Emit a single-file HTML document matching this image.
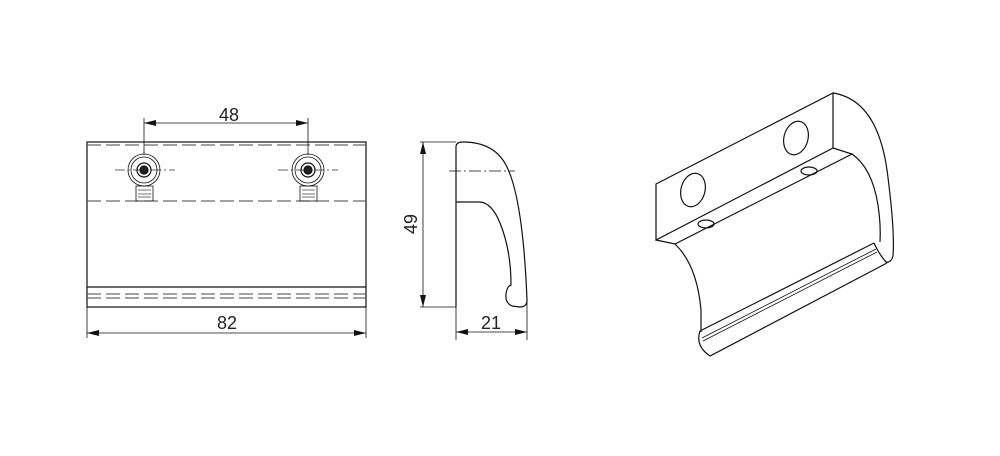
<!DOCTYPE html>
<html><head><meta charset="utf-8"><style>
html,body{margin:0;padding:0;background:#fff}
svg{display:block}
text{font-family:"Liberation Sans",sans-serif;font-size:18px;fill:#222}
</style></head><body>
<svg width="1000" height="456" viewBox="0 0 1000 456" xmlns="http://www.w3.org/2000/svg">
<defs>
<marker id="a" viewBox="0 0 12 6" refX="12" refY="3" markerWidth="12" markerHeight="6" orient="auto-start-reverse" markerUnits="userSpaceOnUse"><path d="M0,0L12,3L0,6z" fill="#111"/></marker>
</defs>
<g fill="none" stroke="#111" stroke-width="1.2">
<rect x="87" y="142" width="279" height="165"/>
<line x1="87" y1="287" x2="366" y2="287"/>
<g stroke-dasharray="14,5" stroke-width="0.9" stroke="#444">
<line x1="87" y1="145" x2="366" y2="145"/>
<line x1="87" y1="201" x2="366" y2="201"/>
<line x1="87" y1="294" x2="366" y2="294"/>
<line x1="87" y1="298" x2="366" y2="298"/>
</g>
<g stroke-width="0.8" stroke="#333">
<line x1="115" y1="170" x2="175" y2="170" stroke-dasharray="10,3,2,3"/>
<line x1="278" y1="170" x2="338" y2="170" stroke-dasharray="10,3,2,3"/>
</g>
<g>
<circle cx="144" cy="170" r="16" stroke-width="0.8"/><circle cx="144" cy="170" r="13" stroke-width="0.8"/><circle cx="144" cy="170" r="7"/><circle cx="144" cy="170" r="4" fill="#222"/>
<rect x="136" y="186" width="17" height="15" stroke-width="0.8"/>
<line x1="138" y1="190" x2="151" y2="190" stroke-width="0.6"/><line x1="138" y1="194" x2="151" y2="194" stroke-width="0.6"/><line x1="138" y1="197" x2="151" y2="197" stroke-width="0.6"/>
<circle cx="308" cy="170" r="16" stroke-width="0.8"/><circle cx="308" cy="170" r="13" stroke-width="0.8"/><circle cx="308" cy="170" r="7"/><circle cx="308" cy="170" r="4" fill="#222"/>
<rect x="300" y="186" width="17" height="15" stroke-width="0.8"/>
<line x1="302" y1="190" x2="315" y2="190" stroke-width="0.6"/><line x1="302" y1="194" x2="315" y2="194" stroke-width="0.6"/><line x1="302" y1="197" x2="315" y2="197" stroke-width="0.6"/>
</g>
<g stroke-width="0.8">
<line x1="144" y1="118" x2="144" y2="155"/><line x1="308" y1="118" x2="308" y2="155"/>
<line x1="144" y1="123" x2="308" y2="123" marker-start="url(#a)" marker-end="url(#a)"/>
<line x1="87" y1="307" x2="87" y2="338"/><line x1="366" y1="307" x2="366" y2="338"/>
<line x1="87" y1="333" x2="366" y2="333" marker-start="url(#a)" marker-end="url(#a)"/>
</g>
<path d="M456,307 L456,147 Q456,142 463,142 Q495,142 507,167 Q523,200 527,300 Q527,307 520,307 L512,306 Q505,303 506,294 Q507,286 511,285 Q511,250 500,223 Q492,203 480,202 L456,202"/>
<line x1="449" y1="171" x2="515" y2="171" stroke-width="0.8" stroke-dasharray="12,3,2,3"/>
<g stroke-width="0.8">
<line x1="420" y1="142" x2="456" y2="142"/><line x1="420" y1="307" x2="456" y2="307"/>
<line x1="423" y1="142" x2="423" y2="307" marker-start="url(#a)" marker-end="url(#a)"/>
<line x1="456" y1="307" x2="456" y2="340"/><line x1="527" y1="300" x2="527" y2="340"/>
<line x1="456" y1="332" x2="527" y2="332" marker-start="url(#a)" marker-end="url(#a)"/>
</g>
<path d="M656,184 L833,93 L833,148 L656,240 Z"/>
<path d="M656,240 L675,244 L852,154 L833,148"/>
<path d="M833,93 Q877,100 887,170 Q895,230 893,256 Q891,263 886,262"/>
<path d="M852,154 Q872,168 878,205 Q881,225 880,242"/>
<path d="M675,244 Q697,265 701,310 L701,332"/>
<path d="M700,331 L874,243"/>
<path d="M702,338 L876,249" stroke-width="0.8"/><path d="M703,341 L877,252" stroke-width="0.8"/>
<path d="M700,331 Q695,346 710,356 L887,263"/>
<path d="M874,243 Q880,256 887,263"/>
<ellipse cx="693" cy="190" rx="12" ry="17" transform="rotate(15 693 190)"/>
<ellipse cx="796" cy="138" rx="12" ry="17" transform="rotate(15 796 138)"/>
<ellipse cx="706" cy="224" rx="8" ry="4"/>
<ellipse cx="809" cy="171" rx="8" ry="4"/>
</g>
<text x="229" y="121" text-anchor="middle">48</text>
<text x="227" y="329" text-anchor="middle">82</text>
<text x="491" y="329" text-anchor="middle">21</text>
<text x="0" y="0" text-anchor="middle" transform="translate(417,224) rotate(-90)">49</text>
</svg>
</body></html>
